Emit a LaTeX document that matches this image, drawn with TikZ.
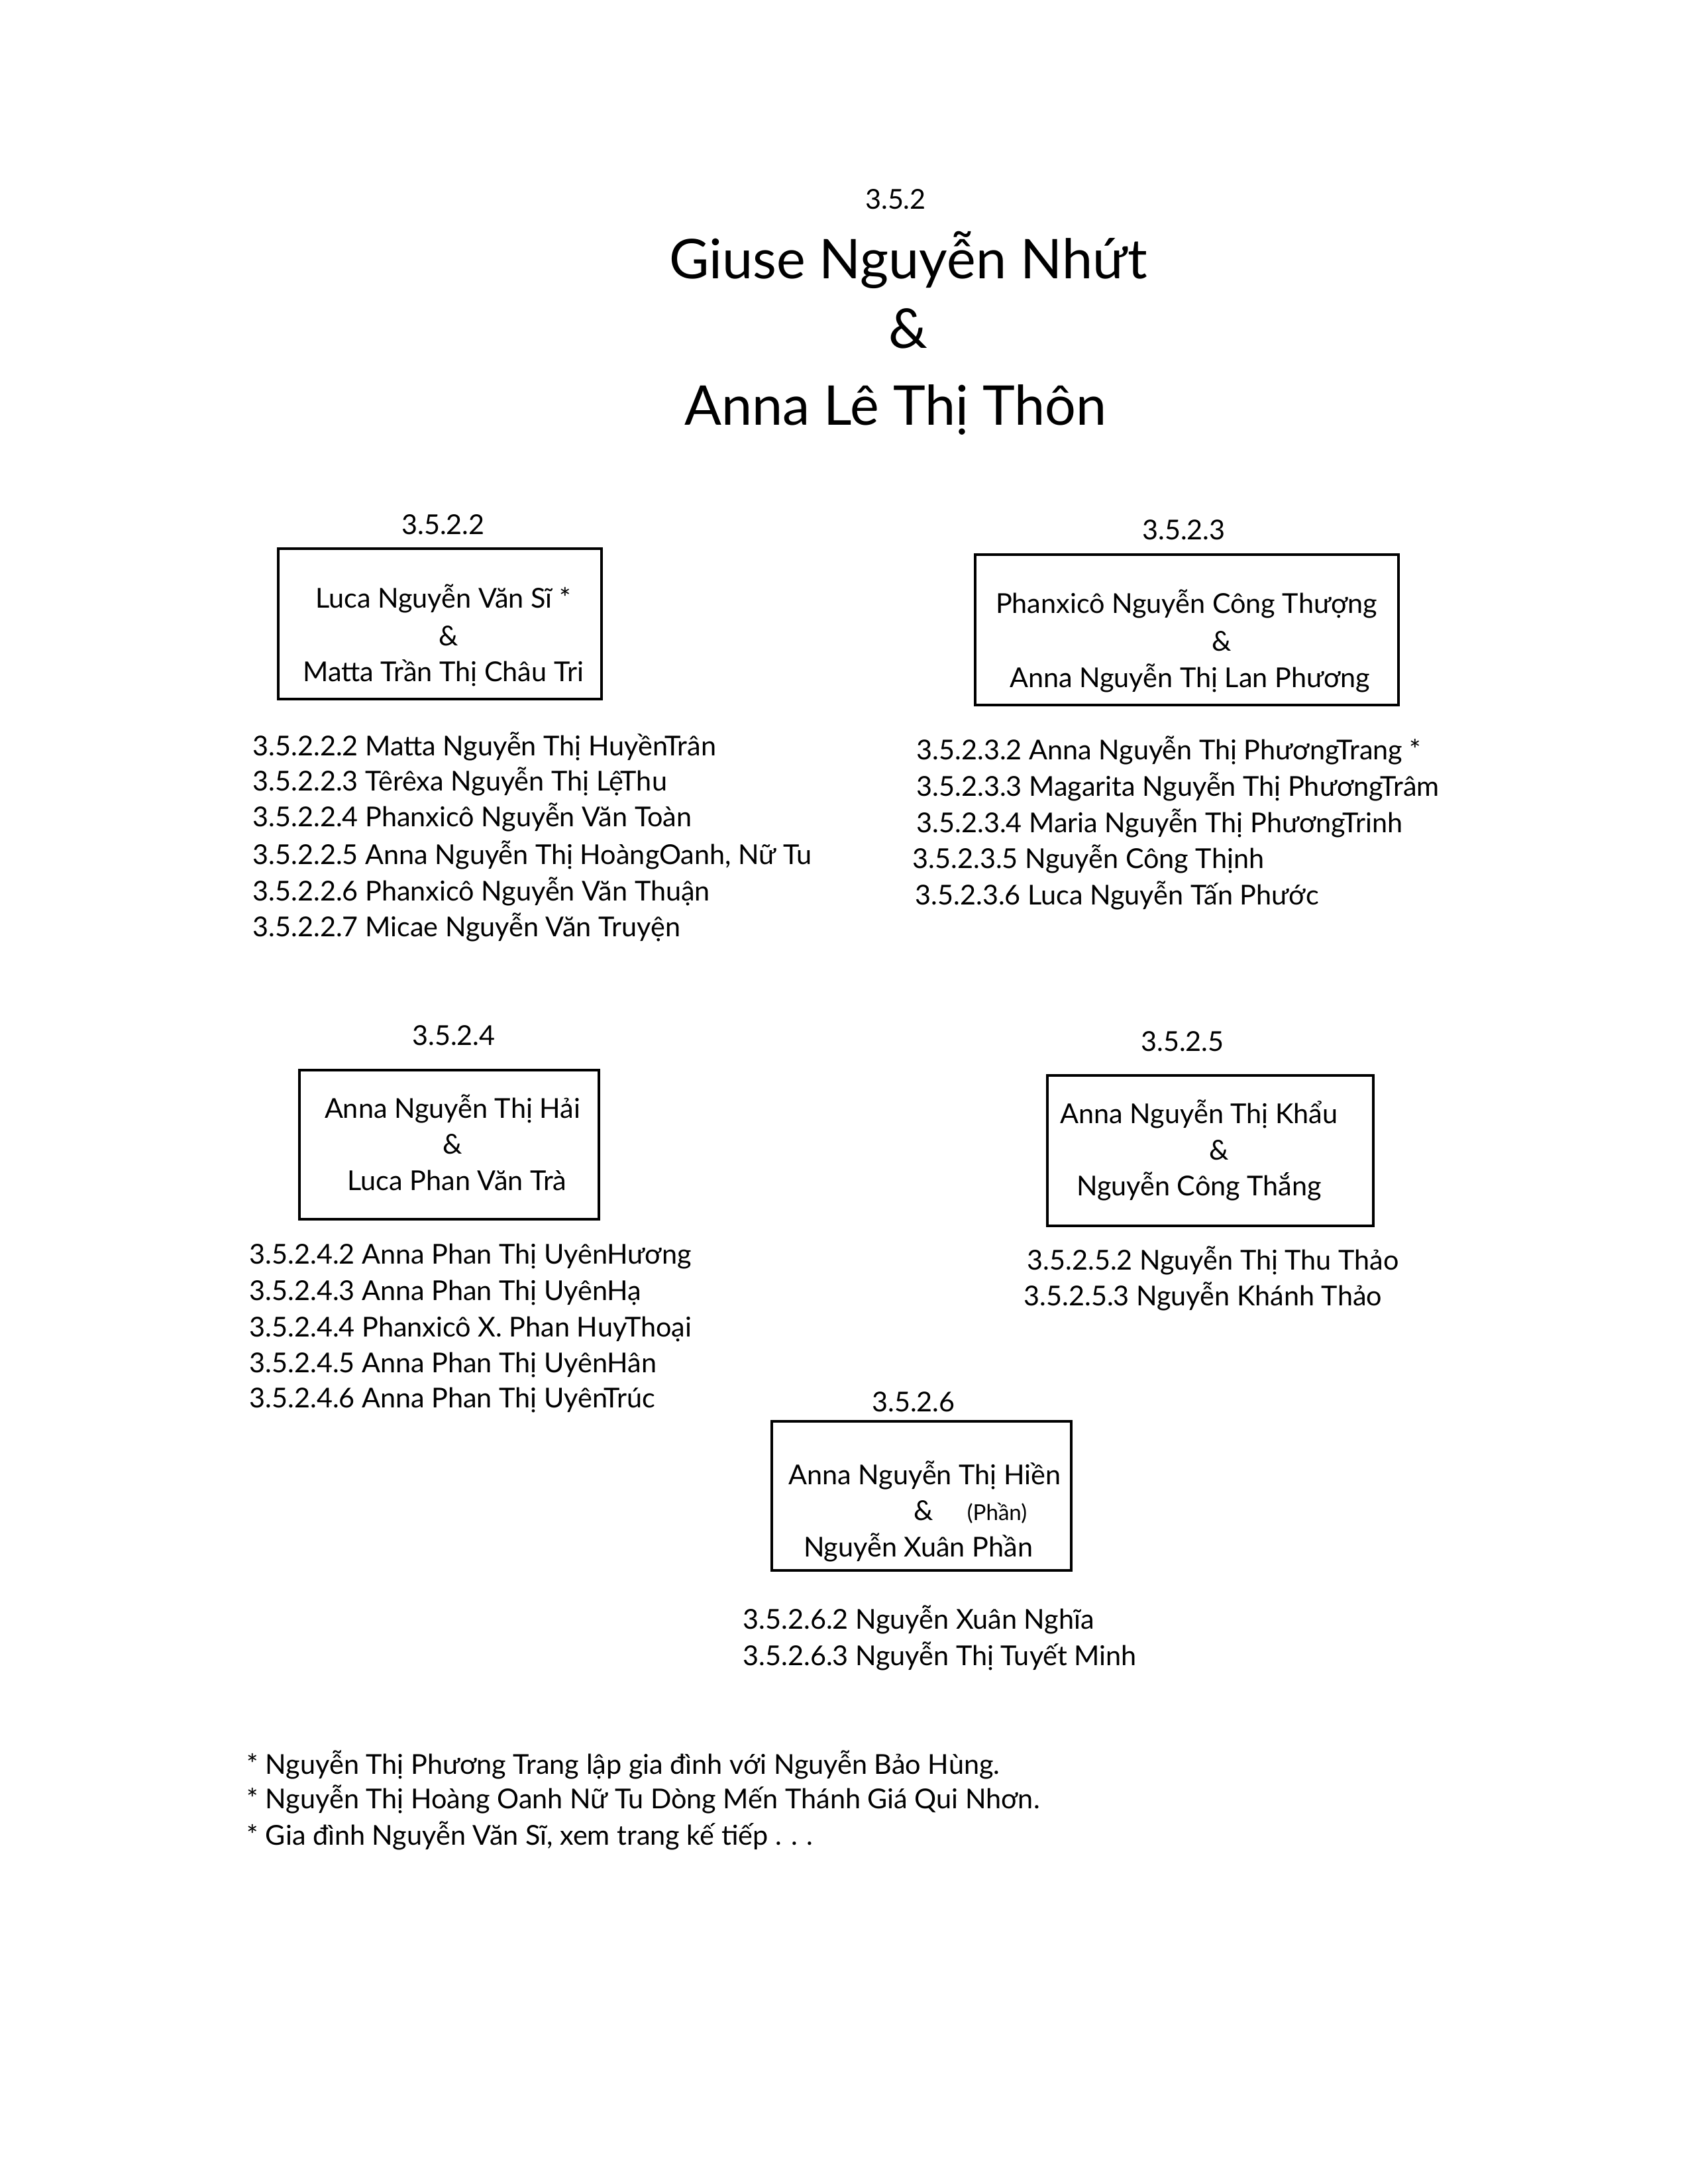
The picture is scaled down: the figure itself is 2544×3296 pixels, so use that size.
\documentclass[tikz,border=0pt]{standalone}
\usepackage{fontspec}
\setmainfont{Lato}

\begin{document}
\begin{tikzpicture}[x=0.0085cm,y=-0.0085cm,
   txt/.style={font=\fontsize{10}{12}\selectfont, inner sep=0pt, anchor=base},
   kid/.style={font=\fontsize{10}{12}\selectfont, inner sep=0pt, anchor=base west},
   big/.style={font=\fontsize{20}{24}\selectfont, inner sep=0pt, anchor=base},
   famebox/.style={line width=0.9pt}]

   \useasboundingbox (0,0) rectangle (2544,3296);
   \fill [white] (0,0) rectangle (2544,3296);

   % parents
   \node[txt] (root) at (1352,315) {3.5.2};
   \node[big] (husband) at (1371,420) {Giuse Nguyễn Nhứt};
   \node[big] (androot) at (1371,525) {\&};
   \node[big] (wife) at (1352,641) {Anna Lê Thị Thôn};

   % 3.5.2.2
   \node[txt] (lbA) at (669,806) {3.5.2.2};
   \draw[famebox] (420,828) rectangle (908,1055);
   \node[txt] (hA) at (669,917) {Luca Nguyễn Văn Sĩ *};
   \node[txt] (aA) at (677,974) {\&};
   \node[txt] (wA) at (669,1028) {Matta Trần Thị Châu Tri};
   \node[kid] (cA2) at (381,1140) {3.5.2.2.2 Matta Nguyễn Thị HuyềnTrân};
   \node[kid] (cA3) at (381,1193) {3.5.2.2.3 Têrêxa Nguyễn Thị LệThu};
   \node[kid] (cA4) at (381,1247) {3.5.2.2.4 Phanxicô Nguyễn Văn Toàn};
   \node[kid] (cA5) at (381,1304) {3.5.2.2.5 Anna Nguyễn Thị HoàngOanh, Nữ Tu};
   \node[kid] (cA6) at (381,1359) {3.5.2.2.6 Phanxicô Nguyễn Văn Thuận};
   \node[kid] (cA7) at (381,1413) {3.5.2.2.7 Micae Nguyễn Văn Truyện};

   % 3.5.2.3
   \node[txt] (lbB) at (1787,814) {3.5.2.3};
   \draw[famebox] (1472,837) rectangle (2111,1064);
   \node[txt] (hB) at (1791,925) {Phanxicô Nguyễn Công Thượng};
   \node[txt] (aB) at (1844,982) {\&};
   \node[txt] (wB) at (1796,1037) {Anna Nguyễn Thị Lan Phương};
   \node[kid] (cB2) at (1383,1146) {3.5.2.3.2 Anna Nguyễn Thị PhươngTrang *};
   \node[kid] (cB3) at (1383,1201) {3.5.2.3.3 Magarita Nguyễn Thị PhươngTrâm};
   \node[kid] (cB4) at (1383,1256) {3.5.2.3.4 Maria Nguyễn Thị PhươngTrinh};
   \node[kid] (cB5) at (1377,1310) {3.5.2.3.5 Nguyễn Công Thịnh};
   \node[kid] (cB6) at (1381,1365) {3.5.2.3.6 Luca Nguyễn Tấn Phước};

   % 3.5.2.4
   \node[txt] (lbC) at (685,1577) {3.5.2.4};
   \draw[famebox] (452,1615) rectangle (904,1840);
   \node[txt] (hC) at (683,1687) {Anna Nguyễn Thị Hải};
   \node[txt] (aC) at (683,1741) {\&};
   \node[txt] (wC) at (690,1796) {Luca Phan Văn Trà};
   \node[kid] (cC2) at (376,1907) {3.5.2.4.2 Anna Phan Thị UyênHương};
   \node[kid] (cC3) at (376,1962) {3.5.2.4.3 Anna Phan Thị UyênHạ};
   \node[kid] (cC4) at (376,2017) {3.5.2.4.4 Phanxicô X. Phan HuyThoại};
   \node[kid] (cC5) at (376,2071) {3.5.2.4.5 Anna Phan Thị UyênHân};
   \node[kid] (cC6) at (376,2124) {3.5.2.4.6 Anna Phan Thị UyênTrúc};

   % 3.5.2.5
   \node[txt] (lbD) at (1785,1586) {3.5.2.5};
   \draw[famebox] (1581,1623) rectangle (2073,1850);
   \node[txt] (hD) at (1810,1695) {Anna Nguyễn Thị Khẩu};
   \node[txt] (aD) at (1840,1750) {\&};
   \node[txt] (wD) at (1810,1804) {Nguyễn Công Thắng};
   \node[kid] (cD2) at (1550,1916) {3.5.2.5.2 Nguyễn Thị Thu Thảo};
   \node[kid] (cD3) at (1545,1970) {3.5.2.5.3 Nguyễn Khánh Thảo};

   % 3.5.2.6
   \node[txt] (lbE) at (1379,2130) {3.5.2.6};
   \draw[famebox] (1165,2145) rectangle (1617,2370);
   \node[txt] (hE) at (1396,2240) {Anna Nguyễn Thị Hiền};
   \node[txt] (aE) at (1394,2294) {\&};
   \node[txt, font=\fontsize{8}{10}\selectfont] (nE) at (1505,2294) {(Phần)};
   \node[txt] (wE) at (1386,2349) {Nguyễn Xuân Phần};
   \node[kid] (cE2) at (1121,2458) {3.5.2.6.2 Nguyễn Xuân Nghĩa};
   \node[kid] (cE3) at (1121,2513) {3.5.2.6.3 Nguyễn Thị Tuyết Minh};

   % notes
   \node[kid] (noteA) at (372,2677) {* Nguyễn Thị Phương Trang lập gia đình với Nguyễn Bảo Hùng.};
   \node[kid] (noteB) at (372,2729) {* Nguyễn Thị Hoàng Oanh Nữ Tu Dòng Mến Thánh Giá Qui Nhơn.};
   \node[kid] (noteC) at (372,2784) {* Gia đình Nguyễn Văn Sĩ, xem trang kế tiếp . . .};

\end{tikzpicture}
\end{document}
